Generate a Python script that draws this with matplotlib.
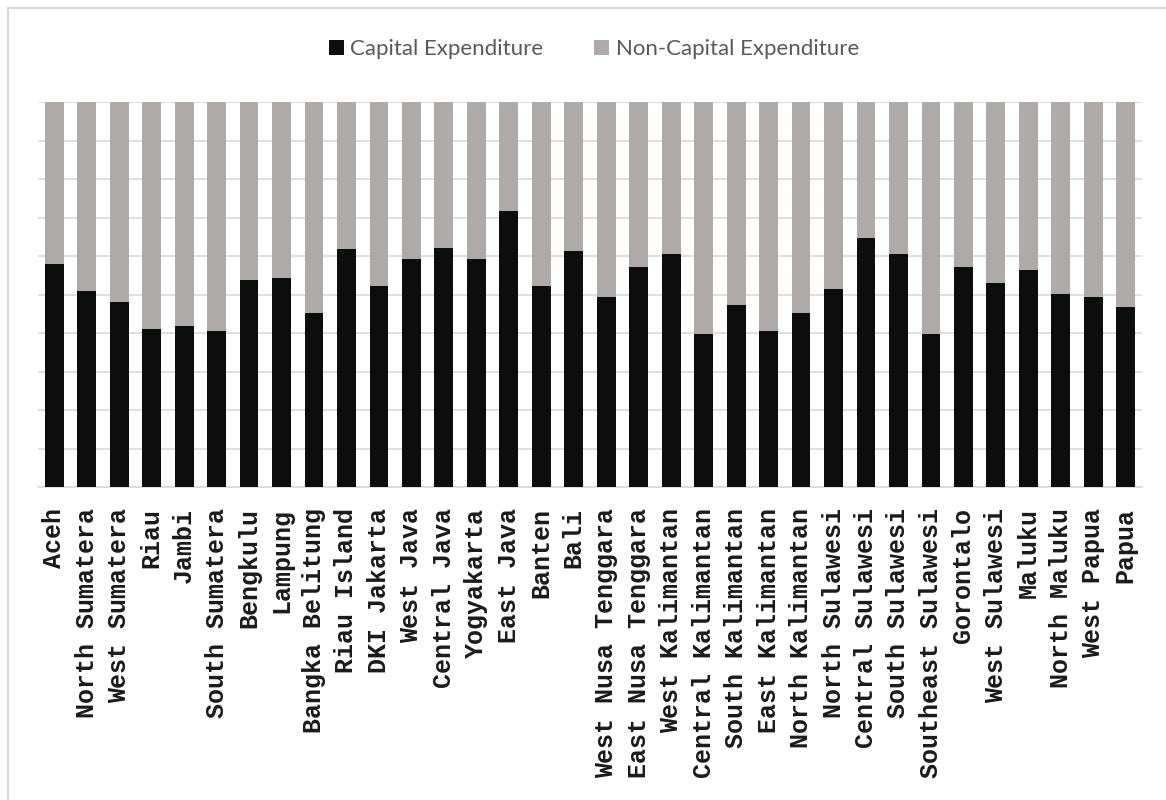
import numpy as np
import matplotlib.pyplot as plt
from matplotlib.patches import Rectangle

provinces = [
    "Aceh", "North Sumatera", "West Sumatera", "Riau", "Jambi",
    "South Sumatera", "Bengkulu", "Lampung", "Bangka Belitung", "Riau Island",
    "DKI Jakarta", "West Java", "Central Java", "Yogyakarta", "East Java",
    "Banten", "Bali", "West Nusa Tenggara", "East Nusa Tenggara",
    "West Kalimantan", "Central Kalimantan", "South Kalimantan",
    "East Kalimantan", "North Kalimantan", "North Sulawesi",
    "Central Sulawesi", "South Sulawesi", "Southeast Sulawesi", "Gorontalo",
    "West Sulawesi", "Maluku", "North Maluku", "West Papua", "Papua",
]

# share of capital expenditure in total expenditure (%)
capital = [
    57.8, 50.8, 48.1, 41.1, 41.8,
    40.5, 53.7, 54.3, 45.3, 61.9,
    52.2, 59.1, 62.0, 59.1, 71.7,
    52.2, 61.2, 49.4, 57.1,
    60.6, 39.7, 47.4,
    40.5, 45.3, 51.5,
    64.7, 60.6, 39.7, 57.1,
    53.0, 56.4, 50.1, 49.4, 46.7,
]
non_capital = [100 - v for v in capital]

CAPITAL_COLOR = "#0d0d0d"
NON_CAPITAL_COLOR = "#aeaaaa"
GRID_COLOR = "#d9d9d9"

fig = plt.figure(figsize=(11.66, 8), dpi=100)
fig.patches.append(Rectangle((8 / 1166, -0.1), 1.2, (800 - 8) / 800 + 0.1,
                             transform=fig.transFigure, fill=False,
                             edgecolor=GRID_COLOR, linewidth=1.5))

ax = fig.add_axes([38 / 1166, (800 - 487) / 800, (1142 - 38) / 1166, 385 / 800])

x = np.arange(len(provinces))
ax.bar(x, capital, width=0.58, color=CAPITAL_COLOR, label="Capital Expenditure",
       zorder=3)
ax.bar(x, non_capital, width=0.58, bottom=capital, color=NON_CAPITAL_COLOR,
       label="Non-Capital Expenditure", zorder=3)

ax.set_xlim(-0.5, len(provinces) - 0.5)
ax.set_ylim(0, 100)
ax.set_yticks(np.arange(0, 101, 10))
ax.set_yticklabels([])
ax.tick_params(axis="y", length=0)
ax.grid(axis="y", color=GRID_COLOR, linewidth=1.2, zorder=0)

ax.set_xticks(x)
ax.set_xticklabels(provinces, rotation=90, fontsize=18, family="Liberation Mono",
                   fontweight="bold", va="top", ha="center", color="#1a1a1a")
ax.tick_params(axis="x", length=0, pad=15)

for side in ["top", "right", "left"]:
    ax.spines[side].set_visible(False)
ax.spines["bottom"].set_color(GRID_COLOR)
ax.spines["bottom"].set_linewidth(1.2)

fig.legend(loc="center", bbox_to_anchor=(594 / 1166, 1 - 49 / 800), ncol=2,
           frameon=False, handlelength=0.65, handleheight=0.65,
           handletextpad=0.3, columnspacing=2.3,
           prop={"family": "Lato", "size": 16},
           labelcolor="#595959")

fig.savefig("out.png", dpi=100, facecolor="white")
